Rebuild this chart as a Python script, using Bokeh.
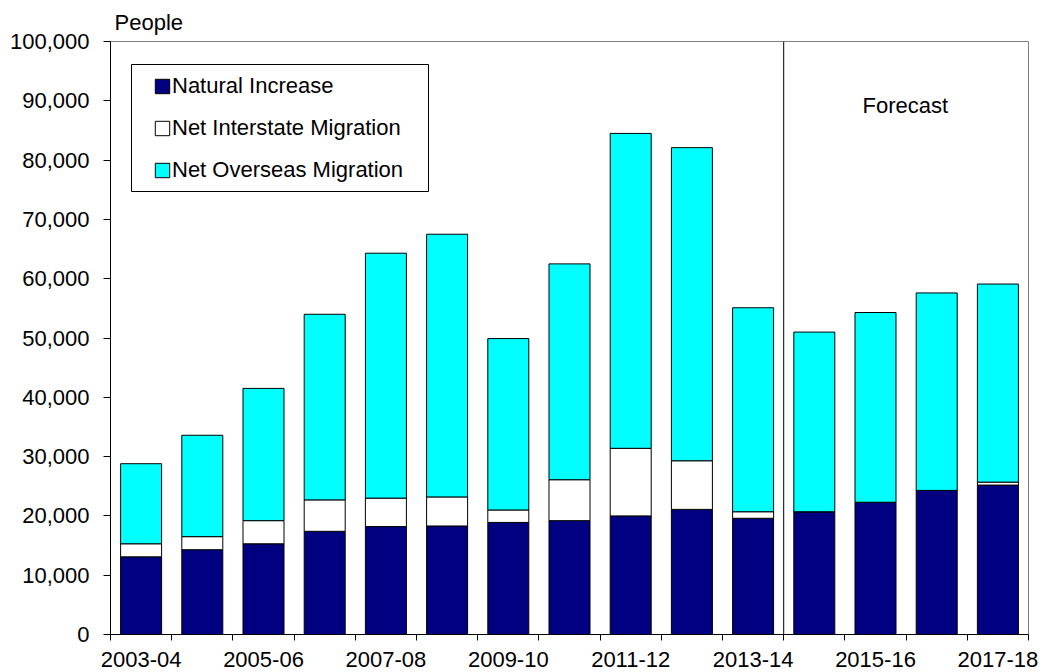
from bokeh.plotting import figure
from bokeh.models import (Range1d, FixedTicker, NumeralTickFormatter, Legend, LegendItem,
                          Span, Label, BoxAnnotation, ColumnDataSource)
from bokeh.embed import file_html
from bokeh.resources import INLINE

# ---- data (people) ----
years = ["2003-04", "2004-05", "2005-06", "2006-07", "2007-08", "2008-09", "2009-10",
         "2010-11", "2011-12", "2012-13", "2013-14", "2014-15", "2015-16", "2016-17", "2017-18"]
natural_increase = [13100, 14300, 15300, 17400, 18200, 18300, 18900, 19200, 20000, 21100,
                    19600, 20700, 22300, 24300, 25200]
net_interstate = [2200, 2200, 3900, 5300, 4800, 4900, 2100, 6900, 11400, 8200,
                  1100, 0, 0, 0, 500]
net_overseas = [13500, 17100, 22300, 31300, 41300, 44300, 28900, 36400, 53100, 52800,
                34400, 30300, 32000, 33300, 33400]
y_ticks = [0, 10000, 20000, 30000, 40000, 50000, 60000, 70000, 80000, 90000, 100000]
forecast_start_index = 11
series_names = ["Natural Increase", "Net Interstate Migration", "Net Overseas Migration"]
series_colors = ["#000080", "#FFFFFF", "#00FFFF"]

FONT = "Liberation Sans"
FS = "22px"

n = len(years)
x_centers = [i + 0.5 for i in range(n)]
source = ColumnDataSource(dict(x=x_centers, ni=natural_increase, nim=net_interstate, nom=net_overseas))

p = figure(width=1046, height=672, output_backend="svg", toolbar_location=None,
           x_range=Range1d(0, n), y_range=Range1d(0, 100000),
           min_border_left=110, min_border_right=18, min_border_top=41, min_border_bottom=38)
p.background_fill_color = "white"
p.border_fill_color = "white"
p.outline_line_color = "#808080"
p.outline_line_width = 1
p.xgrid.visible = False
p.ygrid.visible = False

p.title.text = "People"
p.title.text_font = FONT
p.title.text_font_size = FS
p.title.text_font_style = "normal"
p.title.text_color = "black"
p.title.align = "left"
p.title.offset = 4
p.title.standoff = 13

renderers = p.vbar_stack(["ni", "nim", "nom"], x="x", width=0.67, source=source,
                         fill_color=series_colors, line_color="black", line_width=1)

# y axis
ya = p.yaxis[0]
ya.ticker = FixedTicker(ticks=y_ticks)
ya.formatter = NumeralTickFormatter(format="0,0")
ya.major_label_text_font = FONT
ya.major_label_text_font_size = FS
ya.major_label_text_color = "black"
ya.major_tick_out = 7
ya.major_tick_in = 0
ya.minor_tick_out = 0
ya.minor_tick_in = 0
ya.major_label_standoff = 14
ya.axis_line_color = "black"
ya.major_tick_line_color = "black"

# x axis
xa = p.xaxis[0]
label_ticks = x_centers[::2]
xa.ticker = FixedTicker(ticks=label_ticks, minor_ticks=list(range(n + 1)))
xa.major_label_overrides = {x_centers[i]: years[i] for i in range(0, n, 2)}
xa.major_label_text_font = FONT
xa.major_label_text_font_size = FS
xa.major_label_text_color = "black"
xa.major_tick_out = 0
xa.major_tick_in = 0
xa.minor_tick_out = 6
xa.minor_tick_in = 0
xa.minor_tick_line_color = "black"
xa.major_label_standoff = 11
xa.axis_line_color = "black"

# forecast divider
p.add_layout(Span(location=forecast_start_index, dimension="height", line_color="black", line_width=1))
p.add_layout(Label(x=752, y=529, x_units="screen", y_units="screen", text="Forecast",
                   text_font=FONT, text_font_size=FS, text_baseline="middle", text_color="black"))

# legend box
p.add_layout(BoxAnnotation(left=21, right=318, bottom=443, top=570,
                           left_units="screen", right_units="screen",
                           bottom_units="screen", top_units="screen",
                           fill_alpha=0, line_color="black", line_width=1, line_alpha=1))

legend = Legend(items=[LegendItem(label=series_names[i], renderers=[renderers[i]]) for i in range(3)],
                location=(32, 440), padding=11, margin=0, spacing=16,
                glyph_width=18, glyph_height=18, label_standoff=1, label_height=24,
                label_text_font=FONT, label_text_font_size=FS, label_text_color="black",
                border_line_alpha=0, background_fill_alpha=0)
p.add_layout(legend)

open("out.html", "w").write(file_html(p, INLINE))
